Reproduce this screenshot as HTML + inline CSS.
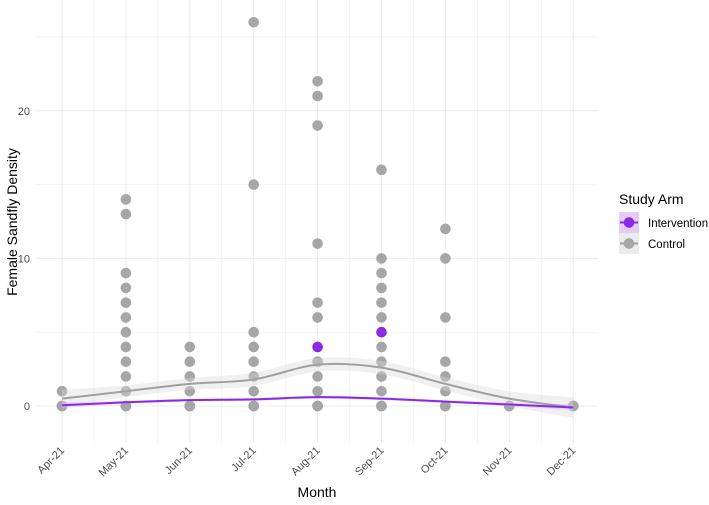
<!DOCTYPE html>
<html><head><meta charset="utf-8"><style>body{margin:0;background:#fff}svg{font-family:"Liberation Sans",Arial,sans-serif}</style></head>
<body>
<svg id="chart" width="709" height="500" xmlns="http://www.w3.org/2000/svg"></svg>
<script>
const months=["Apr-21","May-21","Jun-21","Jul-21","Aug-21","Sep-21","Oct-21","Nov-21","Dec-21"];
const yTicks=[0,10,20];
const controlPts=[[0,1],[0,1,2,3,4,5,6,7,8,9,13,14],[0,1,2,3,4],[0,1,2,3,4,5,15,26],[0,1,2,3,6,7,11,19,21,22],[0,1,2,3,4,6,7,8,9,10,16],[0,1,2,3,6,10,12],[0],[0]];
const interventionPts=[[0],[0],[0],[0],[0,4],[0,5],[0],[0],[0]];
const controlFit=[0.5,1.0,1.5,1.8,2.8,2.6,1.5,0.5,-0.1];
const controlSE=[0.6,0.4,0.4,0.45,0.45,0.45,0.45,0.5,0.7];
const interventionFit=[0.05,0.25,0.4,0.45,0.6,0.5,0.3,0.1,-0.1];
const interventionSE=[0.2,0.1,0.1,0.1,0.1,0.1,0.1,0.12,0.2];
const svg=document.getElementById('chart');
const NS='http://www.w3.org/2000/svg';
const X=i=>62+i*63.9, Y=v=>406-v*14.76;
const L=36,R=598,T=0,B=443;
function el(t,a,p){const e=document.createElementNS(NS,t);for(const k in a)e.setAttribute(k,a[k]);(p||svg).appendChild(e);return e;}
const grid=el('g',{});


for(let v=-5;v<=25;v+=5){if(Y(v)>B||Y(v)<T)continue;el('line',{x1:L,x2:R,y1:Y(v),y2:Y(v),stroke:'#ebebeb','stroke-width':v%10===0?1:0.5},grid);}
for(let i=-0.5;i<=8.5;i+=0.5){const x=X(i);if(x<L||x>R)continue;el('line',{x1:x,x2:x,y1:T,y2:B,stroke:'#ebebeb','stroke-width':Number.isInteger(i)?1:0.5},grid);}
function smooth(pts){let d=`M${pts[0][0]},${pts[0][1]}`;for(let i=0;i<pts.length-1;i++){const p0=pts[Math.max(0,i-1)],p1=pts[i],p2=pts[i+1],p3=pts[Math.min(pts.length-1,i+2)];d+=` C${p1[0]+(p2[0]-p0[0])/6},${p1[1]+(p2[1]-p0[1])/6} ${p2[0]-(p3[0]-p1[0])/6},${p2[1]-(p3[1]-p1[1])/6} ${p2[0]},${p2[1]}`;}return d;}
function ribbon(fit,se,color,name){const up=fit.map((v,i)=>[X(i),Y(v+se[i])]);const lo=fit.map((v,i)=>[X(i),Y(v-se[i])]).reverse();const d=smooth(up)+' L'+smooth(lo).slice(1)+' Z';const r=el('path',{d:d,fill:color,opacity:0.4});}
function line(fit,color,name){const p=el('path',{d:smooth(fit.map((v,i)=>[X(i),Y(v)])),fill:'none',stroke:color,'stroke-width':2});}
function pts(arr,color,name){arr.forEach((a,i)=>a.forEach(v=>{const c=el('circle',{cx:X(i),cy:Y(v),r:5.3,fill:color});}));}
pts(interventionPts.map(a=>a.filter(v=>v===0)),'#8a2be2','intervention-point');
pts(controlPts,'#a6a6a6','control-point');
pts(interventionPts.map(a=>a.filter(v=>v!==0)),'#8a2be2','intervention-point');
ribbon(controlFit,controlSE,'#d9d9d9','control-ribbon');
ribbon(interventionFit,interventionSE,'#d8b4f8','intervention-ribbon');
line(controlFit,'#a0a0a0','control-smooth-line');
line(interventionFit,'#8a2be2','intervention-smooth-line');
yTicks.forEach(v=>{const t=el('text',{x:30,y:Y(v)+4,'text-anchor':'end','font-size':11,fill:'#4d4d4d'});t.textContent=v;});
months.forEach((m,i)=>{const t=el('text',{x:X(i)+3,y:451,'text-anchor':'end','font-size':11,fill:'#4d4d4d',transform:`rotate(-45 ${X(i)+3} 451)`});t.textContent=m;});
</script>
<div style="display:none"></div>
<svg style="position:absolute;left:0;top:0" width="709" height="500" xmlns="http://www.w3.org/2000/svg" font-family="Liberation Sans, Arial, sans-serif">
<text x="317" y="497" text-anchor="middle" font-size="14">Month</text>
<text x="0" y="0" transform="translate(17,222) rotate(-90)" text-anchor="middle" font-size="14">Female Sandfly Density</text>
<g>
<text x="619" y="204" font-size="14">Study Arm</text>
<g>
<rect x="619" y="212" width="20" height="21" fill="#e5ccf8"/>
<line x1="620" x2="638" y1="222.5" y2="222.5" stroke="#8a2be2" stroke-width="2"/>
<circle cx="629" cy="222.5" r="5.3" fill="#8a2be2"/>
<text x="648" y="227" font-size="11.5">Intervention</text></g>
<g>
<rect x="619" y="233" width="20" height="21" fill="#ebebeb"/>
<line x1="620" x2="638" y1="243.5" y2="243.5" stroke="#a0a0a0" stroke-width="2"/>
<circle cx="629" cy="243.5" r="5.3" fill="#a6a6a6"/>
<text x="648" y="248" font-size="11.5">Control</text></g>
</g>
</svg>
</body></html>
